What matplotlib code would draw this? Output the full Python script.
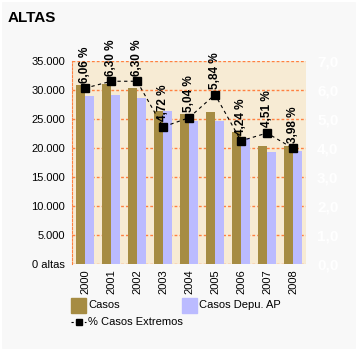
import matplotlib
matplotlib.use("Agg")
from matplotlib import pyplot as plt
import matplotlib.patches as patches
from matplotlib.lines import Line2D
import numpy as np

years = ["2000", "2001", "2002", "2003", "2004", "2005", "2006", "2007", "2008"]
casos = [30800, 31000, 30300, 26300, 25900, 26100, 22700, 20250, 20250]
casos_depu = [28900, 29100, 28550, 26400, 24600, 24600, 21700, 19200, 19400]
pct_extremos = [6.06, 6.30, 6.30, 4.72, 5.04, 5.84, 4.24, 4.51, 3.98]

left_ticks = [0, 5000, 10000, 15000, 20000, 25000, 30000, 35000]
left_labels = ["0 altas", "5.000", "10.000", "15.000", "20.000", "25.000", "30.000", "35.000"]
right_ticks = [0, 1, 2, 3, 4, 5, 6, 7]
right_labels = ["0,0", "1,0", "2,0", "3,0", "4,0", "5,0", "6,0", "7,0"]

C_CASOS = "#a68c43"
C_DEPU = "#bbbbff"
C_BG = "#f8f8f8"
C_PLOT = "#f7ebd4"
C_GRID = "#ff8040"

plt.rcParams['font.family'] = ['Liberation Sans', 'DejaVu Sans']

fig = plt.figure(figsize=(3.58, 3.51), dpi=100, facecolor=C_BG)
fig.add_artist(patches.Rectangle((0, 0), 1, 1, transform=fig.transFigure,
                                 fill=False, edgecolor="white", lw=3))

ax = fig.add_axes([72 / 358, 1 - 263.5 / 351, 234 / 358, 202.5 / 351])
ax.set_facecolor(C_PLOT)
x = np.arange(len(years))
w = 0.33
ax.bar(x - w / 2, casos, width=w, color=C_CASOS, zorder=2)
ax.bar(x + w / 2, casos_depu, width=w, color=C_DEPU, zorder=2)
ax.set_xlim(-0.5, len(years) - 0.5)
ax.set_ylim(0, 35000)
ax.set_yticks(left_ticks)
ax.set_yticklabels(left_labels, fontsize=8)
ax.set_xticks(x)
ax.set_xticklabels(years, rotation=90, fontsize=8)
ax.tick_params(length=0, pad=5)
ax.tick_params(axis="x", pad=4)
for s in ["top", "right", "bottom"]:
    ax.spines[s].set_visible(False)
ax.spines["left"].set_color(C_GRID)
ax.spines["left"].set_linestyle((0, (2, 1.5)))
for t in left_ticks:
    ax.axhline(t, color=C_GRID, lw=1, ls=(0, (2, 1.5)), zorder=1)

ax2 = ax.twinx()
ax2.set_ylim(0, 7)
ax2.set_yticks(right_ticks)
ax2.set_yticklabels(right_labels, fontsize=11, fontweight="bold", color="white")
ax2.tick_params(length=0, pad=8)
for s in ax2.spines.values():
    s.set_visible(False)
ax2.plot(x, pct_extremos, color="black", lw=0.8, ls=(0, (3, 3)),
         marker="s", markersize=5.5, zorder=3)
for xi, v in zip(x, pct_extremos):
    ax2.annotate(f"{v:.2f} %".replace(".", ","), (xi, v), xytext=(0, 4),
                 textcoords="offset points", rotation=90, ha="center",
                 va="bottom", fontsize=8.5, fontweight="bold")

fig.text(8 / 358, 1 - 18 / 351, "ALTAS", fontsize=11, fontweight="bold",
         va="center", ha="left")

# legend
fig.add_artist(patches.Rectangle((71 / 358, 1 - 313 / 351), 15 / 358, 15 / 351,
                                 transform=fig.transFigure, color=C_CASOS))
fig.text(88 / 358, 1 - 305 / 351, "Casos", fontsize=8, va="center")
fig.add_artist(patches.Rectangle((182 / 358, 1 - 313 / 351), 15 / 358, 15 / 351,
                                 transform=fig.transFigure, color=C_DEPU))
fig.text(199 / 358, 1 - 305 / 351, "Casos Depu. AP", fontsize=8, va="center")
fig.add_artist(Line2D([71 / 358, 86 / 358], [1 - 322 / 351, 1 - 322 / 351],
                      transform=fig.transFigure, color="black", lw=0.8,
                      ls=(0, (2, 2))))
fig.add_artist(Line2D([78.5 / 358], [1 - 322 / 351], transform=fig.transFigure,
                      marker="s", markersize=5, color="black"))
fig.text(88 / 358, 1 - 322 / 351, "% Casos Extremos", fontsize=8, va="center")

fig.savefig("out.png", dpi=100, facecolor=C_BG)
